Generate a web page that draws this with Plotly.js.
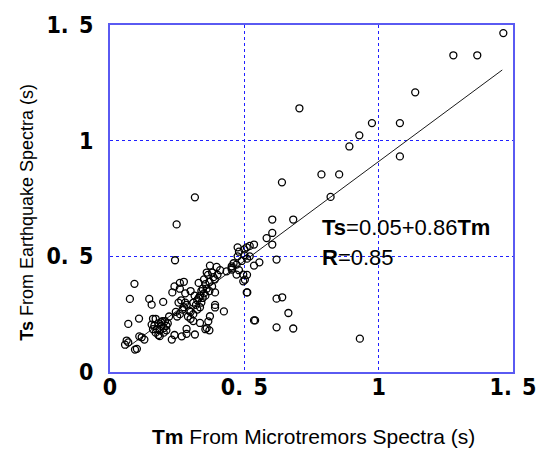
<!DOCTYPE html>
<html>
<head>
<meta charset="utf-8">
<script src="https://cdn.plot.ly/plotly-3.0.1.min.js"></script>
<style>
  html, body { margin: 0; padding: 0; background: #ffffff; }
  #chart { width: 537px; height: 455px; }
</style>
</head>
<body>
<div id="chart"></div>
<script>
// Predominant periods: Tm (microtremors) vs Ts (earthquake records), seconds
const tmValues = [
  0.056, 0.062, 0.068, 0.093, 0.100, 0.109, 0.128, 0.118, 0.068, 0.108,
  0.074, 0.091, 0.146, 0.155, 0.198, 0.242, 0.248, 0.316,
  0.160, 0.170, 0.165, 0.180, 0.190, 0.200, 0.185, 0.175, 0.195, 0.205,
  0.160, 0.180, 0.185, 0.155, 0.200, 0.190, 0.210, 0.170, 0.215, 0.210,
  0.230, 0.267, 0.285, 0.316, 0.285, 0.220, 0.240,
  0.335, 0.366, 0.372, 0.391, 0.391, 0.424, 0.391, 0.509, 0.540, 0.370, 0.360, 0.355,
  0.245, 0.250, 0.260, 0.270, 0.275, 0.285, 0.280, 0.265, 0.255, 0.295, 0.290, 0.300, 0.310, 0.300, 0.310,
  0.232, 0.240, 0.260, 0.275, 0.260, 0.280,
  0.300, 0.315, 0.325, 0.330, 0.335, 0.340, 0.345, 0.355, 0.330, 0.350, 0.365, 0.360, 0.380, 0.385,
  0.390, 0.370, 0.360, 0.350, 0.340, 0.320, 0.310, 0.325, 0.335, 0.345, 0.355, 0.370, 0.380,
  0.434, 0.453, 0.471, 0.400, 0.410,
  0.475, 0.475, 0.480, 0.500, 0.509, 0.520, 0.536, 0.490, 0.500, 0.510, 0.520, 0.536, 0.556,
  0.453, 0.460, 0.480, 0.496, 0.502, 0.471, 0.453, 0.496, 0.510, 0.372, 0.397,
  0.583, 0.604, 0.604, 0.604, 0.682, 0.620, 0.511, 0.620, 0.641, 0.664, 0.536, 0.620, 0.682, 0.930,
  0.640, 0.787, 0.821, 0.853, 0.891, 0.928, 0.975, 1.079, 1.079, 0.705, 1.136, 1.278, 1.367, 1.464
];
const tsValues = [
  0.118, 0.136, 0.128, 0.097, 0.100, 0.154, 0.140, 0.150, 0.208, 0.231,
  0.316, 0.381, 0.316, 0.291, 0.303, 0.483, 0.638, 0.755,
  0.230, 0.230, 0.200, 0.210, 0.200, 0.190, 0.180, 0.185, 0.220, 0.220,
  0.185, 0.160, 0.155, 0.205, 0.170, 0.215, 0.200, 0.170, 0.210, 0.180,
  0.140, 0.154, 0.165, 0.162, 0.186, 0.240, 0.160,
  0.212, 0.219, 0.241, 0.290, 0.279, 0.262, 0.344, 0.344, 0.223, 0.180, 0.190, 0.185,
  0.260, 0.240, 0.250, 0.270, 0.280, 0.290, 0.300, 0.310, 0.300, 0.265, 0.240, 0.260, 0.250, 0.230, 0.220,
  0.344, 0.370, 0.360, 0.390, 0.385, 0.340,
  0.350, 0.330, 0.310, 0.320, 0.330, 0.350, 0.360, 0.380, 0.385, 0.400, 0.420, 0.430, 0.430, 0.410,
  0.400, 0.390, 0.360, 0.340, 0.300, 0.290, 0.300, 0.270, 0.280, 0.320, 0.330, 0.350, 0.370,
  0.435, 0.450, 0.464, 0.420, 0.440,
  0.500, 0.539, 0.520, 0.530, 0.539, 0.545, 0.551, 0.480, 0.505, 0.490, 0.500, 0.460, 0.474,
  0.457, 0.470, 0.440, 0.421, 0.399, 0.421, 0.443, 0.392, 0.420, 0.460, 0.454,
  0.579, 0.601, 0.551, 0.659, 0.659, 0.486, 0.344, 0.317, 0.323, 0.255, 0.223, 0.193, 0.188, 0.144,
  0.820, 0.854, 0.757, 0.854, 0.975, 1.023, 1.076, 1.076, 0.932, 1.140, 1.209, 1.369, 1.369, 1.465
];

// Least-squares fit Ts = a + b*Tm, drawn across the range of Tm
const fitIntercept = 0.05;
const fitSlope = 0.86;
const fitCorrelation = 0.85;
const fitTmRange = [0.06, 1.46];

const axisTicks = [0, 0.5, 1, 1.5];
const axisTickText = ['0', '0.\u2002' + '5', '1', '1.\u2002' + '5'];

const fitTs = fitTmRange.map(t => fitIntercept + fitSlope * t);

const frameBlue = '#5a5af2';
const gridBlue = '#1f1fff';

const tickFont = {
  family: 'Liberation Sans Narrow, DejaVu Sans Condensed, sans-serif',
  size: 23, color: '#000', weight: 'bold'
};
const textFont = 'Liberation Sans, Arial, sans-serif';

const traces = [
  {
    x: tmValues,
    y: tsValues,
    type: 'scatter',
    mode: 'markers',
    marker: { symbol: 'circle-open', size: 7, color: '#000', line: { width: 1.3, color: '#000' } },
    hoverinfo: 'x+y'
  },
  {
    x: fitTmRange,
    y: fitTs,
    type: 'scatter',
    mode: 'lines',
    line: { color: '#000', width: 0.9 },
    hoverinfo: 'skip'
  }
];

const axisCommon = {
  range: [0, 1.5],
  tickmode: 'array',
  tickvals: axisTicks,
  ticktext: axisTickText,
  tickfont: tickFont,
  ticks: '',
  showline: true,
  linecolor: frameBlue,
  linewidth: 2,
  mirror: true,
  showgrid: true,
  gridcolor: gridBlue,
  griddash: 'dot',
  gridwidth: 1,
  zeroline: false,
  fixedrange: true
};

const layout = {
  width: 537,
  height: 455,
  margin: { l: 110, r: 24, t: 25, b: 83 },
  paper_bgcolor: '#ffffff',
  plot_bgcolor: '#ffffff',
  showlegend: false,
  xaxis: Object.assign({}, axisCommon, { ticklabelstandoff: -7 }),
  yaxis: Object.assign({}, axisCommon, { ticklabelstandoff: 10 }),
  annotations: [
    {
      xref: 'x', yref: 'y',
      x: 0.78, y: 0.624,
      xanchor: 'left', yanchor: 'middle',
      text: '<b>Ts</b>=' + fitIntercept.toFixed(2) + '+' + fitSlope.toFixed(2) + '<b>Tm</b>',
      showarrow: false,
      font: { family: textFont, size: 22, color: '#000' }
    },
    {
      xref: 'x', yref: 'y',
      x: 0.78, y: 0.494,
      xanchor: 'left', yanchor: 'middle',
      text: '<b>R</b>=' + fitCorrelation.toFixed(2),
      showarrow: false,
      font: { family: textFont, size: 22, color: '#000' }
    },
    {
      xref: 'paper', yref: 'paper',
      x: 0.504, y: -0.186,
      xanchor: 'center', yanchor: 'middle',
      text: '<b>Tm</b> From Microtremors Spectra (s)',
      showarrow: false,
      font: { family: textFont, size: 21, color: '#000' }
    },
    {
      xref: 'paper', yref: 'paper',
      x: -0.206, y: 0.462,
      xanchor: 'center', yanchor: 'middle',
      textangle: -90,
      text: '<b>Ts</b> From Earthquake Spectra (s)',
      showarrow: false,
      font: { family: textFont, size: 18, color: '#000' }
    }
  ]
};

Plotly.newPlot('chart', traces, layout, { displayModeBar: false, staticPlot: true });
</script>
</body>
</html>
